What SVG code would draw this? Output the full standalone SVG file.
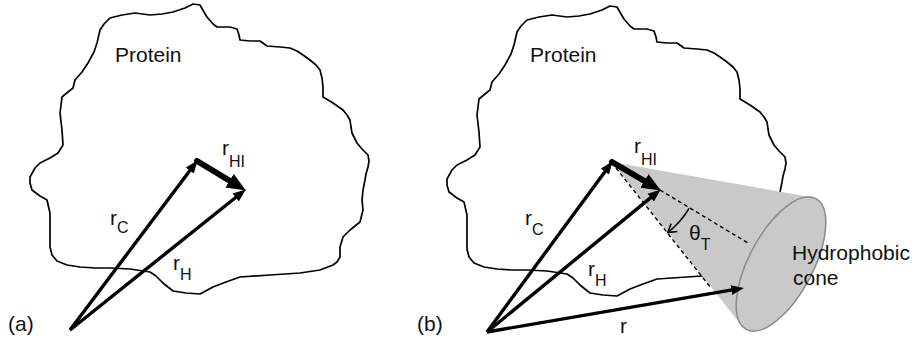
<svg xmlns="http://www.w3.org/2000/svg" width="914" height="344" viewBox="0 0 914 344">
<style>
.outline{fill:none;stroke:#000;stroke-width:1.7;stroke-linejoin:round;stroke-linecap:round}
.vec{fill:none;stroke:#000;stroke-width:3.4;marker-end:url(#ah)}
.vecT{fill:none;stroke:#000;stroke-width:6;stroke-linecap:round;marker-end:url(#ahT)}
.dash{fill:none;stroke:#000;stroke-width:1.4;stroke-dasharray:4 3}
.lbl{font-family:"Liberation Sans",Arial,sans-serif;font-size:21px;fill:#111}
.sub{font-size:16px}
</style>
<defs>
<marker id="ah" markerUnits="userSpaceOnUse" markerWidth="13" markerHeight="11" refX="4" refY="5" orient="auto" viewBox="0 0 13 10">
<path d="M0,0 L13,5 L0,10 z" fill="#000"/>
</marker>
<marker id="ahT" markerUnits="userSpaceOnUse" markerWidth="19" markerHeight="17" refX="6" refY="8" orient="auto" viewBox="0 0 19 16">
<path d="M0,0 L19,8 L0,16 z" fill="#000"/>
</marker>
<marker id="ahV" markerUnits="userSpaceOnUse" markerWidth="12" markerHeight="12" refX="9" refY="6" orient="auto" viewBox="0 0 12 12">
<path d="M1,1 L9,6 L1,11" fill="none" stroke="#000" stroke-width="1.6"/>
</marker>
<polyline id="prot" points="100,30 104,24 110,18 122,15 135,13 150,15 162,14 173,12 185,8 193,4 200,5 204,12 207,17 213,24 217,27 230,27 237,29 239,35 240,40 250,41 260,41 267,46 280,47 290,48 297,51 303,55 310,60 316,65 320,70 322,78 323,87 323,97 333,103 343,110 347,115 350,120 351,127 352,133 357,143 362,149 368,155 369,161 368,167 366,174 365,180 363,190 362,200 363,210 360,222 350,230 343,237 340,247 340,257 337,262 333,265 320,270 300,273 270,275 240,277 226,282 213,287 200,294 186,293 173,291 163,283 156,276 150,272 130,269 110,268 95,268 80,267 67,265 57,261 52,255 50,247 50,230 50,213 47,200 40,196 32,190 30,183 30,177 35,168 40,163 50,158 58,153 63,145 62,130 60,113 62,97 68,92 73,88 75,80 82,72 88,63 94,52 97,43 100,30"/>
</defs>

<g id="panel-a">
<g id="protein-a"><use href="#prot" class="outline"/></g>
<g id="connectors-a">
<line id="rC-a" class="vec" x1="70" y1="330" x2="192.2" y2="167.4"/>
<line id="rH-a" class="vec" x1="70" y1="330" x2="238.8" y2="195"/>
<line id="rHI-a" class="vecT" x1="197" y1="161" x2="234.7" y2="183.8"/>
</g>
<g id="labels-a">
<text class="lbl" x="115" y="62">Protein</text>
<text class="lbl" x="110" y="225">r<tspan class="sub" dy="8">C</tspan></text>
<text class="lbl" x="173" y="270">r<tspan class="sub" dy="10">H</tspan></text>
<text class="lbl" x="222" y="155">r<tspan class="sub" dy="12">HI</tspan></text>
<text class="lbl" x="8" y="331" font-size="20">(a)</text>
</g>
</g>

<g id="panel-b">
<g id="protein-b"><use href="#prot" class="outline" transform="translate(417,2)"/></g>
<g id="cone">
<polygon points="612,162 811.5,197.2 741.6,325.4" fill="#c9c9c9"/>
<ellipse cx="0" cy="0" rx="32" ry="74" transform="translate(781,264) rotate(28)" fill="#c9c9c9" stroke="#8a8a8a" stroke-width="1.5"/>
</g>
<g id="connectors-b">
<line class="dash" x1="660" y1="190" x2="748" y2="243"/>
<line class="dash" x1="616" y1="168" x2="711" y2="288"/>
<path id="theta-arc" d="M689.1,208.4 A90,90 0 0 1 667.9,232.5" fill="none" stroke="#000" stroke-width="1.6" marker-end="url(#ahV)"/>
<line id="rC-b" class="vec" x1="487" y1="332" x2="607.3" y2="168.4"/>
<line id="rH-b" class="vec" x1="487" y1="332" x2="653.8" y2="195.1"/>
<line id="r-b" class="vec" x1="487" y1="332" x2="735.1" y2="289.4"/>
<line id="rHI-b" class="vecT" x1="612" y1="162" x2="649.6" y2="184"/>
</g>
<g id="labels-b">
<text class="lbl" x="530" y="62">Protein</text>
<text class="lbl" x="525" y="225">r<tspan class="sub" dy="10">C</tspan></text>
<text class="lbl" x="588" y="276">r<tspan class="sub" dy="10">H</tspan></text>
<text class="lbl" x="634" y="153">r<tspan class="sub" dy="12">HI</tspan></text>
<text class="lbl" x="620" y="333">r</text>
<text class="lbl" x="689" y="240" font-size="19">θ<tspan class="sub" dy="10">T</tspan></text>
<text class="lbl" x="792" y="260">Hydrophobic</text>
<text class="lbl" x="793" y="285">cone</text>
<text class="lbl" x="417" y="331" font-size="20">(b)</text>
</g>
</g>
</svg>
